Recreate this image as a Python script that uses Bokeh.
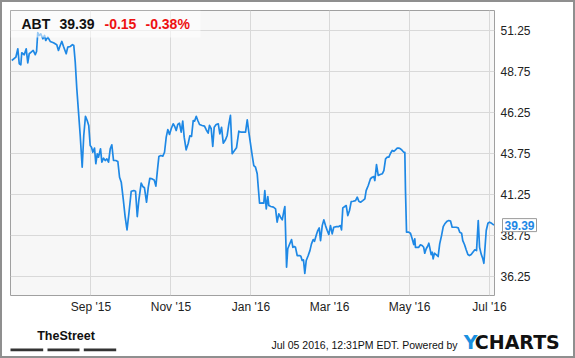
import numpy as np
import pandas as pd
from bokeh.plotting import figure
from bokeh.layouts import column
from bokeh.models import (Range1d, FixedTicker, PrintfTickFormatter, DatetimeTickFormatter,
                          Label, BoxAnnotation, ColumnDataSource)
from bokeh.core.properties import value
from bokeh.embed import file_html
from bokeh.resources import INLINE

# ---------------- data ----------------
ticker = "ABT"
last_price = "39.39"
change_abs = "-0.15"
change_pct = "-0.38%"
start_date = "2015-07-02"
# days after start_date
days = [0.6, 3.7, 5.2, 6.3, 7.5, 8.2, 10.1, 11.6, 12.8, 13.9, 15.4, 16.9, 18.5, 19.5, 20.4, 21.5, 22.7,
        24.3, 25.6, 26.5, 28.1, 29.9, 32.4, 34.9, 36.2, 37.5, 38.8, 40.0, 42.1, 43.3, 45.2, 46.9, 47.9,
        49.0, 50.2, 51.5, 52.8, 54.3, 55.5, 56.8, 58.1, 59.3, 60.4, 61.4, 62.4, 63.7, 64.7, 65.8, 66.7,
        68.3, 69.3, 70.6, 71.9, 73.1, 74.4, 75.7, 76.9, 78.2, 79.9, 81.5, 82.8, 84.1, 85.6, 87.1, 88.5,
        89.9, 91.7, 93.7, 95.0, 96.3, 97.5, 99.3, 100.5, 101.8, 103.4, 104.7, 105.9, 107.7, 109.2, 110.5,
        111.8, 112.8, 114.3, 115.8, 117.1, 118.4, 119.6, 120.9, 122.2, 123.7, 124.9, 126.0, 127.2, 128.5,
        129.8, 131.0, 132.1, 133.6, 135.2, 136.4, 137.7, 139.0, 140.0, 141.3, 142.5, 143.8, 145.8, 147.6,
        148.9, 150.4, 151.4, 152.7, 153.9, 155.0, 156.5, 158.1, 159.3, 160.6, 161.9, 163.6, 164.9, 166.2,
        167.4, 168.7, 170.5, 172.0, 173.8, 175.6, 177.6, 178.9, 180.2, 181.4, 182.7, 184.0, 185.2, 186.5,
        187.8, 188.6, 189.6, 191.6, 192.8, 193.6, 194.7, 195.9, 196.7, 198.2, 200.2, 201.8, 203.0, 204.3,
        205.6, 206.9, 208.1, 208.9, 210.2, 211.1, 212.4, 214.0, 215.0, 216.0, 217.0, 218.3, 220.1, 221.1,
        222.1, 223.1, 224.1, 225.2, 226.7, 228.0, 229.2, 230.5, 231.5, 233.0, 234.0, 235.1, 236.1, 237.4,
        238.6, 239.9, 241.2, 242.4, 243.7, 245.0, 246.2, 248.3, 250.0, 251.3, 252.1, 253.1, 254.6, 255.7,
        256.9, 258.2, 259.5, 261.0, 262.8, 264.1, 265.3, 266.6, 268.3, 269.9, 270.9, 272.5, 274.2, 275.5,
        276.8, 277.5, 278.8, 280.1, 281.6, 283.2, 284.4, 285.7, 287.0, 288.2, 289.5, 290.8, 292.0, 293.3,
        294.6, 295.8, 297.1, 298.4, 299.6, 300.4, 300.9, 301.7, 303.4, 304.7, 306.0, 307.2, 308.0, 308.5,
        309.8, 311.0, 312.3, 313.6, 314.8, 315.6, 316.7, 317.7, 318.7, 319.4, 320.5, 321.3, 322.0, 323.0,
        324.3, 325.8, 327.0, 328.4, 329.7, 330.9, 332.7, 333.9, 335.3, 336.5, 337.7, 339.6, 341.1, 342.3,
        343.7, 344.6, 345.9, 347.2, 348.5, 349.7, 351.0, 352.3, 353.8, 355.1, 356.4, 357.4, 358.6, 359.9,
        360.7, 361.4, 362.5, 363.8, 365.0, 366.6, 368.4]
price = [49.40, 49.60, 50.11, 49.20, 49.14, 49.87, 49.75, 50.11, 49.26, 49.81, 49.91, 50.01, 49.75, 49.95,
         51.09, 50.92, 51.02, 50.72, 50.92, 50.62, 50.82, 50.56, 50.48, 50.36, 50.01, 50.31, 50.56, 50.27,
         49.81, 50.21, 50.25, 50.36, 50.31, 49.30, 47.68, 46.26, 44.84, 42.91, 44.84, 46.01, 45.75, 45.45,
         44.23, 44.13, 43.82, 44.07, 43.12, 43.73, 43.52, 44.03, 43.22, 43.46, 43.32, 43.42, 43.22, 44.03,
         44.27, 43.32, 43.32, 43.26, 42.30, 42.00, 40.99, 39.87, 39.10, 40.08, 41.45, 41.49, 41.45, 39.91,
         40.89, 41.94, 41.74, 41.66, 40.78, 41.69, 42.24, 42.20, 42.14, 41.76, 42.81, 43.56, 43.62, 43.58,
         43.82, 44.74, 45.20, 44.90, 45.25, 45.55, 45.39, 45.14, 45.51, 45.59, 45.04, 45.71, 44.74, 43.97,
         44.37, 44.82, 44.78, 45.75, 45.71, 46.00, 45.75, 45.51, 45.45, 45.41, 45.19, 44.98, 45.45, 45.25,
         44.17, 45.34, 45.51, 45.55, 44.94, 45.34, 44.37, 44.58, 44.84, 45.55, 46.06, 43.73, 43.93, 44.09,
         45.10, 45.04, 45.04, 45.04, 45.79, 45.04, 44.33, 43.62, 43.01, 42.91, 42.51, 41.69, 40.72, 40.74,
         40.72, 41.49, 40.38, 41.13, 40.58, 40.52, 40.48, 40.38, 39.57, 40.08, 39.87, 39.71, 40.23, 40.52,
         36.83, 37.95, 38.21, 38.51, 38.04, 38.09, 38.04, 37.54, 37.54, 37.50, 37.24, 37.28, 36.46, 37.24,
         37.54, 37.84, 38.25, 38.51, 38.41, 38.82, 39.06, 39.22, 38.45, 39.36, 39.71, 39.36, 39.06, 38.82,
         39.36, 38.86, 39.26, 39.30, 39.30, 39.36, 39.10, 40.44, 40.52, 40.58, 39.97, 40.28, 40.82, 40.84,
         40.88, 41.09, 40.84, 40.78, 40.88, 40.99, 41.49, 41.80, 42.21, 42.30, 42.34, 42.10, 43.07, 42.41,
         42.47, 42.51, 42.71, 43.42, 43.52, 43.52, 43.76, 43.93, 43.88, 43.97, 44.07, 44.07, 44.03, 43.93,
         43.82, 43.82, 41.49, 38.96, 38.96, 38.90, 38.56, 38.21, 38.56, 38.04, 38.04, 38.04, 38.19, 38.15,
         38.04, 37.68, 37.95, 38.09, 38.29, 38.04, 37.60, 37.74, 37.34, 37.68, 37.60, 37.48, 38.25, 38.75,
         39.30, 39.47, 39.63, 39.67, 39.63, 39.26, 39.26, 39.26, 39.22, 38.96, 38.90, 38.45, 38.21, 37.89,
         37.60, 37.54, 37.60, 37.74, 37.89, 37.84, 39.67, 38.04, 37.64, 37.34, 37.07, 37.84, 39.06, 39.50,
         39.57, 39.50, 39.39]
y_ticks = [36.25, 38.75, 41.25, 43.75, 46.25, 48.75, 51.25]
x_ticks = ["2015-09-01", "2015-11-01", "2016-01-01", "2016-03-01", "2016-05-01", "2016-07-01"]
footer_text = "Jul 05 2016, 12:31PM EDT.  Powered by"

# ---------------- geometry / style ----------------
DAY = 86400000.0
FONT = "Liberation Sans"
BLUE = "#1e88e5"
start_ms = pd.Timestamp(start_date).value / 1e6
x_lo = start_ms - 0.38 * DAY
x_hi = start_ms + 368.8 * DAY
y_lo, y_hi = 35.11, 52.44
# frame in window pixels
WL, WR, WT, WB = 10, 494, 10, 295


def xpx(X):
    return x_lo + (X - WL) / (WR - WL) * (x_hi - x_lo)


def ypx(Y):
    return y_hi - (Y - WT) / (WB - WT) * (y_hi - y_lo)


src = ColumnDataSource(dict(x=start_ms + np.array(days) * DAY, y=price))

p = figure(width=571, height=320, x_axis_type="datetime", y_axis_location="right",
           x_range=Range1d(x_lo, x_hi), y_range=Range1d(y_lo, y_hi),
           toolbar_location=None, output_backend="svg", frame_align=False,
           min_border_left=WL - 2, min_border_top=WT - 2,
           min_border_right=571 - (WR - 2), min_border_bottom=320 - (WB - 2),
           background_fill_color="#f7f7f7", border_fill_color="white",
           outline_line_color="#a0a0a0")

xt = FixedTicker(ticks=[pd.Timestamp(t).value / 1e6 for t in x_ticks])
yt = FixedTicker(ticks=y_ticks)
p.xaxis.ticker = xt
p.yaxis.ticker = yt
p.xgrid.ticker = xt
p.ygrid.ticker = yt
fmt = "%b '%y"
p.xaxis.formatter = DatetimeTickFormatter(days=fmt, months=fmt, years=fmt, hours=fmt, minutes=fmt)
p.yaxis.formatter = PrintfTickFormatter(format="%.2f")
for ax in (p.xaxis, p.yaxis):
    ax.axis_line_color = None
    ax.major_tick_line_color = None
    ax.minor_tick_line_color = None
    ax.major_tick_out = 0
    ax.major_tick_in = 0
    ax.major_label_text_font = FONT
    ax.major_label_text_font_size = "12px"
    ax.major_label_text_color = "#222222"
p.xaxis.major_label_standoff = 4
p.yaxis.major_label_standoff = 6
p.xgrid.grid_line_color = "#d9d9d9"
p.ygrid.grid_line_color = "#d9d9d9"

p.line("x", "y", source=src, line_color=BLUE, line_width=1.7, line_join="round")

# title overlay box
p.add_layout(BoxAnnotation(left=x_lo, right=xpx(200), top=y_hi, bottom=ypx(37),
                           fill_color="white", fill_alpha=0.55, line_color=None))
for txt, X, col in [(ticker, 21, "#111111"), (last_price, 59, "#111111"),
                    (change_abs, 104, "#ee1111"), (change_pct, 145, "#ee1111")]:
    p.add_layout(Label(x=xpx(X), y=ypx(23.7), text=txt, text_font=FONT, text_font_size="14px",
                       text_font_style="bold", text_color=col, text_baseline="middle"))

# last value tag (placed in the right side panel so it is not clipped to the frame)
p.add_layout(Label(x=xpx(502), y=float(last_price), text=last_price, text_font=FONT,
                   text_font_size="12px", text_font_style="bold", text_color=BLUE,
                   text_baseline="middle", text_align="left",
                   background_fill_color="white", border_line_color="#9a9a9a", padding=2),
             "right")

# ---------------- footer (window y 322..356 -> footer y 0..34) ----------------
f = figure(width=571, height=34, x_range=Range1d(0, 571), y_range=Range1d(34, 0),
           toolbar_location=None, output_backend="svg", min_border=0, frame_align=False,
           x_axis_location=None, y_axis_location=None,
           background_fill_color="white", border_fill_color="white", outline_line_color=None)
f.xgrid.visible = False
f.ygrid.visible = False
f.quad(left=[8, 45, 81.3], right=[40.7, 77, 113.7], top=[26, 26, 26], bottom=[28.7, 28.7, 28.7],
       fill_color="#333333", line_color=None)
f.text(x=[34.7], y=[13.8], text=["TheStreet"], text_font=value(FONT),
       text_font_size="12.5px", text_font_style="bold", text_color="#111111",
       text_baseline="middle")
f.text(x=[458], y=[22.7], text=[footer_text], text_font=value(FONT), text_font_size="10.5px",
       text_color="#111111", text_align="right", text_baseline="middle")
f.text(x=[461.3], y=[19.7], text=["Y"], text_font=value("DejaVu Sans"), text_font_size="19px",
       text_font_style="bold", text_color="#1a90e0", text_baseline="middle")
f.text(x=[472.3], y=[19.7], text=["CHARTS"], text_font=value("DejaVu Sans"), text_font_size="19px",
       text_font_style="bold", text_color="#111111", text_baseline="middle")

lay = column(p, f, spacing=0, styles={"border": "2px solid #8f8f8f"})

open("out.html", "w").write(file_html(lay, INLINE))
